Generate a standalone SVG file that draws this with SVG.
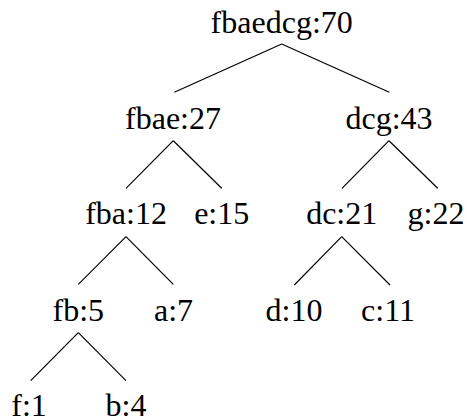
<svg xmlns="http://www.w3.org/2000/svg" width="467" height="419" viewBox="0 0 467 419">
<style>
.t{font-family:'Liberation Serif','Times New Roman','DejaVu Serif',serif;font-size:32px;fill:#000;text-anchor:middle}
line{stroke:#000;stroke-width:1.2}
</style>
<rect width="467" height="419" fill="#fff"/>
<g id="connectors">
<line x1="281.7" y1="44" x2="174.3" y2="92.3"/>
<line x1="281.7" y1="44" x2="389.3" y2="92.3"/>
<line x1="173.3" y1="140.7" x2="126" y2="188.3"/>
<line x1="173.3" y1="140.7" x2="221.7" y2="188.3"/>
<line x1="389" y1="140.7" x2="342" y2="188.3"/>
<line x1="389" y1="140.7" x2="437.7" y2="188.3"/>
<line x1="126" y1="236.7" x2="78.3" y2="284.3"/>
<line x1="126" y1="236.7" x2="173.3" y2="284.3"/>
<line x1="341.7" y1="236.7" x2="294.3" y2="285"/>
<line x1="341.7" y1="236.7" x2="390" y2="285"/>
<line x1="78.3" y1="332.7" x2="30.7" y2="380.7"/>
<line x1="78.3" y1="332.7" x2="126" y2="380.7"/>
</g>
<g id="n_root"><text class="t" font-family="Liberation Serif, serif" x="281.7" y="33">fbaedcg:70</text></g>
<g id="n_fbae"><text class="t" font-family="Liberation Serif, serif" x="173" y="129.3">fbae:27</text></g>
<g id="n_dcg"><text class="t" font-family="Liberation Serif, serif" x="389" y="129.3">dcg:43</text></g>
<g id="n_fba"><text class="t" font-family="Liberation Serif, serif" x="126" y="224.3">fba:12</text></g>
<g id="n_e"><text class="t" font-family="Liberation Serif, serif" x="221.7" y="224.3">e:15</text></g>
<g id="n_dc"><text class="t" font-family="Liberation Serif, serif" x="341.7" y="224.3">dc:21</text></g>
<g id="n_g"><text class="t" font-family="Liberation Serif, serif" x="436" y="224.3">g:22</text></g>
<g id="n_fb"><text class="t" font-family="Liberation Serif, serif" x="78.3" y="320.7">fb:5</text></g>
<g id="n_a"><text class="t" font-family="Liberation Serif, serif" x="173.5" y="320.7">a:7</text></g>
<g id="n_d"><text class="t" font-family="Liberation Serif, serif" x="294" y="320.7">d:10</text></g>
<g id="n_c"><text class="t" font-family="Liberation Serif, serif" x="388" y="320.7">c:11</text></g>
<g id="n_f"><text class="t" font-family="Liberation Serif, serif" x="29" y="415.5">f:1</text></g>
<g id="n_b"><text class="t" font-family="Liberation Serif, serif" x="126" y="415.5">b:4</text></g>
</svg>
